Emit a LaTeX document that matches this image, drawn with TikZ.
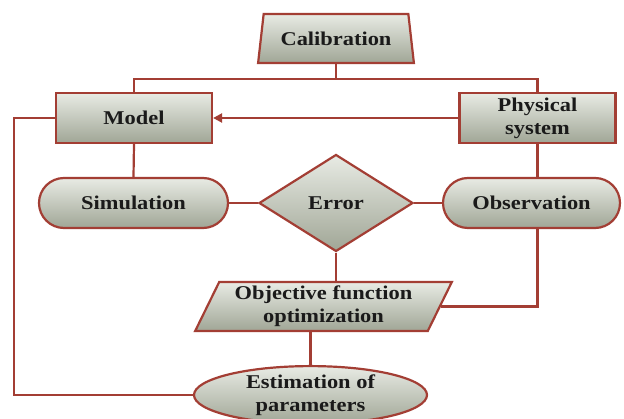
\documentclass[tikz,border=0pt]{standalone}
\usepackage{fontspec}
\newfontfamily\labfont{Liberation Serif}[FakeStretch=1.15]
\newcommand\mylbl{\labfont\bfseries\fontsize{19.5}{23}\selectfont}
\usetikzlibrary{shapes.geometric,shapes.misc,arrows.meta}
\definecolor{edge}{RGB}{163,62,52}
\definecolor{gtop}{HTML}{E8EBE4}
\definecolor{gbot}{HTML}{A0A696}
\definecolor{txt}{HTML}{1A1A1A}
\begin{document}
\begin{tikzpicture}[x=1pt,y=-1pt,
  box/.style={draw=edge, line width=2.2pt, top color=gtop, bottom color=gbot,
    text=txt, font=\mylbl, align=center, inner sep=2pt},
  link/.style={draw=edge, line width=2.2pt}]
\clip (0,0) rectangle (624,419);
\fill[white] (0,0) rectangle (624,419);
% nodes
\node[box, trapezium, trapezium left angle=76, trapezium right angle=76,
  trapezium stretches=true, minimum width=156pt, minimum height=49pt]
  (cal) at (336,38.5) {Calibration};
\node[box, rectangle, minimum width=156pt, minimum height=50pt] (model) at (134,118) {Model};
\node[box, rectangle, minimum width=156pt, minimum height=50pt] (phys) at (537.5,118) {Physical\\system};
\node[box, rounded rectangle, minimum width=193pt, minimum height=50pt] (sim) at (133.5,203) {Simulation};
\node[box, diamond, minimum width=154pt, minimum height=97pt, inner sep=0pt] (err) at (336,203) {Error};
\node[box, rounded rectangle, minimum width=181pt, minimum height=50pt] (obs) at (531.5,203) {Observation};
\node[box, trapezium, trapezium left angle=65, trapezium right angle=115,
  trapezium stretches=true, minimum width=257pt, minimum height=49pt]
  (obj) at (323.5,306.5) {Objective function\\optimization};
\node[box, ellipse, minimum width=233pt, minimum height=56pt, inner sep=0pt] (est) at (310.5,395) {Estimation of\\parameters};
% connectors
\draw[link] (cal.south) -- ++(0,15) coordinate (j);
\draw[link] (model.north) |- (j) -| (phys.north);
\draw[link,-{Triangle[length=9pt,width=9pt]}] (phys.west) -- (model.east);
\draw[link] (model.west) -- ++(-41,0) |- (est.west);
\draw[link] (model.south) -- (sim.north);
\draw[link] (phys.south) -- (phys.south |- obs.north);
\draw[link] (sim.east) -- (err.west);
\draw[link] (err.east) -- (obs.west);
\draw[link] (err.south) -- (err.south |- obj.north);
\draw[link] (phys.south |- obs.south) |- (obj.east);
\draw[link] (est.north |- obj.south) -- (est.north);
\end{tikzpicture}
\end{document}
